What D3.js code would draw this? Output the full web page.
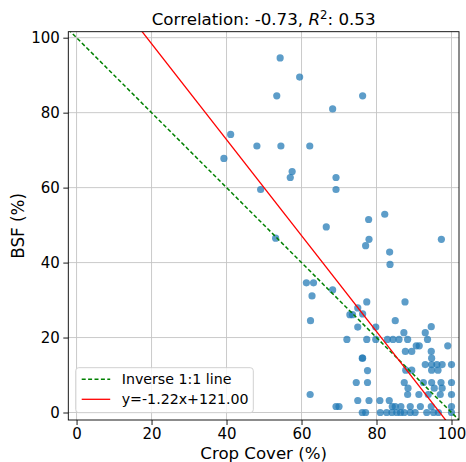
<!DOCTYPE html>
<html>
<head>
<meta charset="utf-8">
<script src="https://cdn.jsdelivr.net/npm/d3@7"></script>
<style>
  body { margin: 0; background: #fff; }
  svg { display: block; font-family: "DejaVu Sans", sans-serif; }
</style>
</head>
<body>
<svg width="466" height="462"></svg>
<script>
// scatter values: crop cover (%) and BSF (%)
const cropCover = [
  54.3, 59.5, 53.4, 76.3, 68.3, 41.1, 48.1, 54.5, 62.2, 39.3,
  57.5, 57.0, 69.2, 69.2, 49.1, 82.2, 77.9, 66.6, 78.0, 77.1,
  97.3, 83.5, 83.6, 53.1, 61.3, 63.2, 68.3, 62.8, 77.4, 87.6,
  62.4, 75.0, 72.9, 73.6, 76.3, 75.0, 79.8, 85.0, 87.3, 94.6,
  93.0,
  72.1, 77.4, 79.8, 82.9, 84.4, 86.0, 88.3, 93.6,
  90.6, 91.4, 99.0,
  87.7, 89.4, 94.6,
  76.2, 76.3, 94.7,
  93.0, 94.7, 96.1, 97.5, 100.0,
  77.6, 87.8, 89.4, 94.7, 96.4,
  74.6, 77.6, 87.4, 92.5, 94.7, 97.2, 100.0,
  88.4, 95.4, 97.5,
  62.3, 88.3, 91.3, 93.8, 97.0, 100.0,
  75.0, 78.0, 80.9, 83.4,
  69.2, 70.0, 84.2, 85.0, 86.5, 89.0, 91.7, 94.6, 100.0,
  76.2, 77.1, 81.0, 82.7, 84.1, 85.4, 86.4, 87.4, 89.0, 90.3, 93.4, 95.2, 96.5, 100.0
]
const bsf = [
  94.6, 89.5, 84.5, 84.5, 81.0, 74.2, 71.1, 71.1, 71.1, 67.8,
  64.3, 62.7, 62.7, 59.5, 59.5, 52.9, 51.5, 49.5, 46.2, 44.5,
  46.2, 42.8, 39.5, 46.5, 34.6, 34.6, 32.7, 31.1, 29.5, 29.5,
  24.5, 27.9, 26.1, 26.1, 26.3, 22.8, 22.8, 24.5, 21.3, 22.9,
  21.3,
  19.5, 19.5, 19.5, 19.5, 19.5, 19.5, 19.5, 19.5,
  17.8, 17.8, 17.8,
  16.3, 16.3, 16.3,
  14.5, 14.5, 14.5,
  12.8, 12.8, 12.8, 12.8, 12.8,
  11.2, 11.3, 11.3, 11.3, 11.3,
  8.0, 8.0, 8.0, 8.0, 8.0, 8.0, 8.0,
  6.5, 6.5, 6.5,
  4.8, 4.8, 4.8, 4.8, 4.8, 4.8,
  3.2, 3.2, 3.2, 3.2,
  1.6, 1.6, 1.6, 1.6, 1.6, 1.6, 1.6, 1.6, 1.6,
  0, 0, 0, 0, 0, 0, 0, 0, 0, 0, 0, 0, 0, 0
]
const xTicks = [0, 20, 40, 60, 80, 100]
const yTicks = [0, 20, 40, 60, 80, 100]
const xLimits = [-2.2, 102]
const yLimits = [-2, 101.6]
// fitted line as it is drawn in the picture
const fitSlope = -1.28
const fitIntercept = 124
const legendLabels = ['Inverse 1:1 line', 'y=-1.22x+121.00']

const nodes = cropCover.map((c, i) => ({x: c, y: bsf[i]}))

const svg = d3.select('svg')
const margin = {left: 68.3, right: 7, top: 31.7, bottom: 42}
const width = +svg.attr('width')
const height = +svg.attr('height')

const xScale = d3.scaleLinear().domain(xLimits).range([margin.left, width - margin.right])
const yScale = d3.scaleLinear().domain(yLimits).range([height - margin.bottom, margin.top])

svg.append('clipPath').attr('id', 'plot-clip')
  .append('rect')
  .attr('x', margin.left).attr('y', margin.top)
  .attr('width', width - margin.left - margin.right)
  .attr('height', height - margin.top - margin.bottom)

// grid
const grid = svg.append('g').attr('stroke', '#c4c4c4').attr('stroke-width', 0.9)
grid.selectAll('line.vx').data(xTicks).enter().append('line')
  .attr('x1', d => xScale(d)).attr('x2', d => xScale(d))
  .attr('y1', margin.top).attr('y2', height - margin.bottom)
grid.selectAll('line.hy').data(yTicks).enter().append('line')
  .attr('y1', d => yScale(d)).attr('y2', d => yScale(d))
  .attr('x1', margin.left).attr('x2', width - margin.right)

// points
svg.append('g').selectAll('circle')
  .data(nodes)
  .enter()
  .append('circle')
  .attr('cx', d => xScale(d.x))
  .attr('cy', d => yScale(d.y))
  .attr('r', 3.6)
  .style('fill', '#1f77b4')
  .style('fill-opacity', 0.72)

// reference lines
const lines = svg.append('g').attr('clip-path', 'url(#plot-clip)')
lines.append('line')
  .attr('x1', xScale(xLimits[0])).attr('y1', yScale(100 - xLimits[0]))
  .attr('x2', xScale(xLimits[1])).attr('y2', yScale(100 - xLimits[1]))
  .attr('stroke', 'green').attr('stroke-width', 1.5).attr('stroke-dasharray', '4,2.4')
lines.append('line')
  .attr('x1', xScale(xLimits[0])).attr('y1', yScale(fitSlope * xLimits[0] + fitIntercept))
  .attr('x2', xScale(xLimits[1])).attr('y2', yScale(fitSlope * xLimits[1] + fitIntercept))
  .attr('stroke', 'red').attr('stroke-width', 1.3)

// axes
const xAxis = d3.axisBottom(xScale).tickValues(xTicks).tickSize(5).tickPadding(3)
const yAxis = d3.axisLeft(yScale).tickValues(yTicks).tickSize(5).tickPadding(3.5)
const gx = svg.append('g').attr('transform', `translate(0,${height - margin.bottom})`).call(xAxis)
const gy = svg.append('g').attr('transform', `translate(${margin.left},0)`).call(yAxis)
;[gx, gy].forEach(g => {
  g.select('.domain').remove()
  g.selectAll('text').attr('font-size', 15).attr('fill', '#000').attr('font-family', 'DejaVu Sans')
  g.selectAll('line').attr('stroke', '#000').attr('stroke-width', 0.9)
})

// frame
svg.append('rect')
  .attr('x', margin.left).attr('y', margin.top)
  .attr('width', width - margin.left - margin.right)
  .attr('height', height - margin.top - margin.bottom)
  .attr('fill', 'none').attr('stroke', '#000').attr('stroke-width', 0.9)

// titles
const title = svg.append('text')
  .attr('x', (margin.left + width - margin.right) / 2).attr('y', 25)
  .attr('text-anchor', 'middle').attr('font-size', 16.7)
title.append('tspan').text('Correlation: -0.73, ')
title.append('tspan').attr('font-style', 'italic').text('R')
title.append('tspan').attr('font-size', 11.7).attr('dy', -6).text('2')
title.append('tspan').attr('dy', 6).text(': 0.53')

svg.append('text')
  .attr('x', (margin.left + width - margin.right) / 2).attr('y', 458.5)
  .attr('text-anchor', 'middle').attr('font-size', 16.6)
  .text('Crop Cover (%)')

svg.append('text')
  .attr('transform', `translate(24,${(margin.top + height - margin.bottom) / 2}) rotate(-90)`)
  .attr('text-anchor', 'middle').attr('font-size', 16.8)
  .text('BSF (%)')

// legend
const legend = svg.append('g').attr('transform', 'translate(75.7,367.7)')
legend.append('rect')
  .attr('width', 177.6).attr('height', 45).attr('rx', 3)
  .attr('fill', '#fff').attr('fill-opacity', 0.8)
  .attr('stroke', '#cccccc').attr('stroke-width', 0.9)
const items = legend.selectAll('g.item')
  .data(legendLabels)
  .enter().append('g')
  .attr('transform', (d, i) => `translate(0,${11.6 + i * 20})`)
items.append('line')
  .attr('x1', 6).attr('x2', 34.5)
  .attr('stroke', (d, i) => i === 0 ? 'green' : 'red')
  .attr('stroke-width', (d, i) => i === 0 ? 1.5 : 1.3)
  .attr('stroke-dasharray', (d, i) => i === 0 ? '4,2.4' : null)
items.append('text')
  .attr('x', 46).attr('y', 5)
  .attr('font-size', 14.2)
  .text(d => d)
</script>
</body>
</html>
